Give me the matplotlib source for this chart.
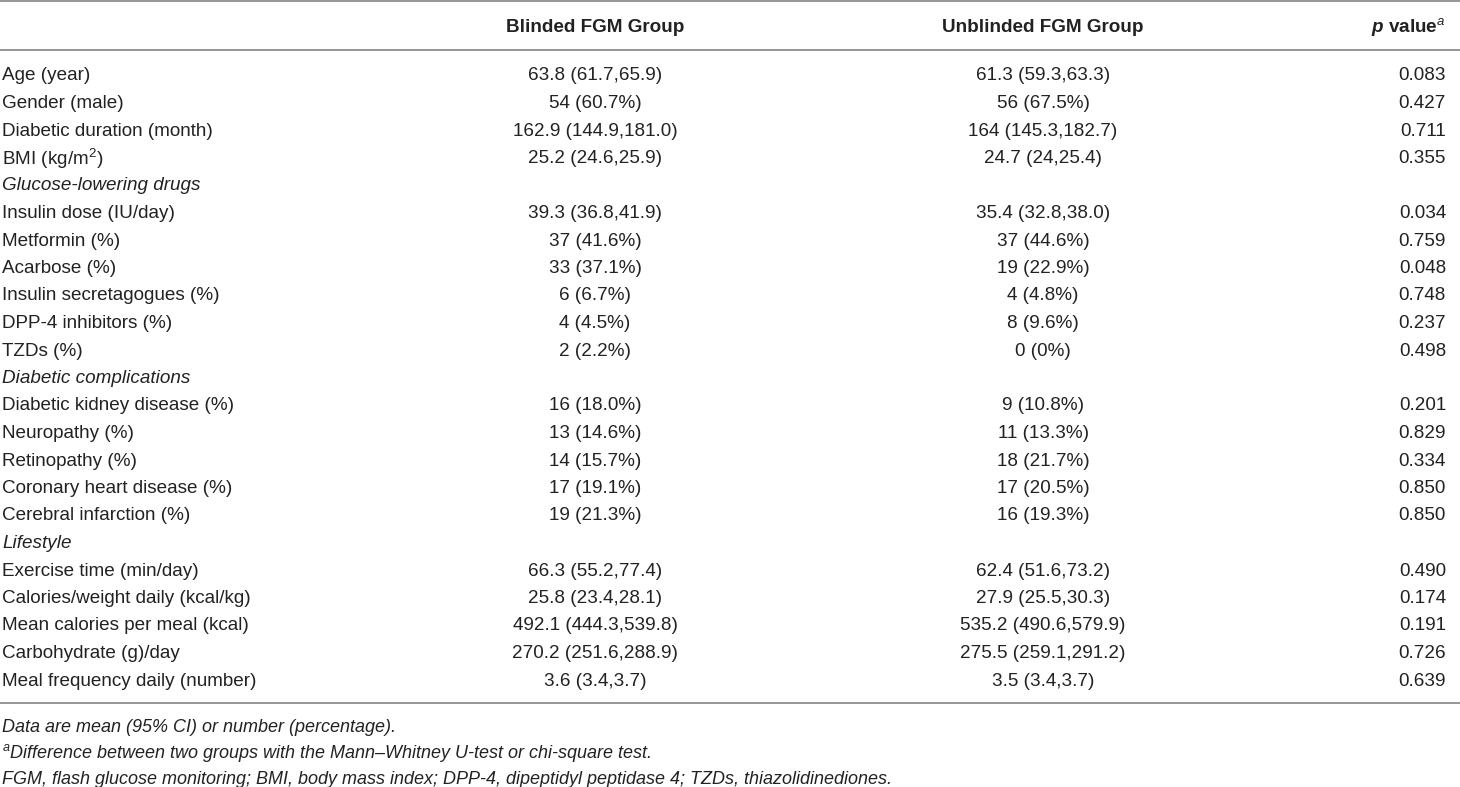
import matplotlib
matplotlib.use("Agg")
import matplotlib.pyplot as plt

row_labels = [
    "Age (year)", "Gender (male)", "Diabetic duration (month)", "BMI (kg/m$^{2}$)",
    "Glucose-lowering drugs", "Insulin dose (IU/day)", "Metformin (%)", "Acarbose (%)",
    "Insulin secretagogues (%)", "DPP-4 inhibitors (%)", "TZDs (%)",
    "Diabetic complications", "Diabetic kidney disease (%)", "Neuropathy (%)",
    "Retinopathy (%)", "Coronary heart disease (%)", "Cerebral infarction (%)",
    "Lifestyle", "Exercise time (min/day)", "Calories/weight daily (kcal/kg)",
    "Mean calories per meal (kcal)", "Carbohydrate (g)/day", "Meal frequency daily (number)",
]
section_rows = {"Glucose-lowering drugs", "Diabetic complications", "Lifestyle"}
blinded = [
    "63.8 (61.7,65.9)", "54 (60.7%)", "162.9 (144.9,181.0)", "25.2 (24.6,25.9)",
    "", "39.3 (36.8,41.9)", "37 (41.6%)", "33 (37.1%)", "6 (6.7%)", "4 (4.5%)", "2 (2.2%)",
    "", "16 (18.0%)", "13 (14.6%)", "14 (15.7%)", "17 (19.1%)", "19 (21.3%)",
    "", "66.3 (55.2,77.4)", "25.8 (23.4,28.1)", "492.1 (444.3,539.8)", "270.2 (251.6,288.9)",
    "3.6 (3.4,3.7)",
]
unblinded = [
    "61.3 (59.3,63.3)", "56 (67.5%)", "164 (145.3,182.7)", "24.7 (24,25.4)",
    "", "35.4 (32.8,38.0)", "37 (44.6%)", "19 (22.9%)", "4 (4.8%)", "8 (9.6%)", "0 (0%)",
    "", "9 (10.8%)", "11 (13.3%)", "18 (21.7%)", "17 (20.5%)", "16 (19.3%)",
    "", "62.4 (51.6,73.2)", "27.9 (25.5,30.3)", "535.2 (490.6,579.9)", "275.5 (259.1,291.2)",
    "3.5 (3.4,3.7)",
]
p_values = [
    "0.083", "0.427", "0.711", "0.355", "", "0.034", "0.759", "0.048", "0.748", "0.237",
    "0.498", "", "0.201", "0.829", "0.334", "0.850", "0.850", "", "0.490", "0.174",
    "0.191", "0.726", "0.639",
]
headers = ["Blinded FGM Group", "Unblinded FGM Group"]
footnotes = [
    "Data are mean (95% CI) or number (percentage).",
    "$^{a}$Difference between two groups with the Mann\u2013Whitney U-test or chi-square test.",
    "FGM, flash glucose monitoring; BMI, body mass index; DPP-4, dipeptidyl peptidase 4; TZDs, thiazolidinediones.",
]

plt.rcParams['font.family'] = ['Liberation Sans', 'DejaVu Sans']
plt.rcParams['mathtext.fontset'] = 'custom'
plt.rcParams['mathtext.rm'] = 'Liberation Sans'
plt.rcParams['mathtext.it'] = 'Liberation Sans:italic'
plt.rcParams['mathtext.bf'] = 'Liberation Sans:bold'
plt.rcParams['mathtext.bfit'] = 'Liberation Sans:italic:bold'

W, H = 1460, 787
fig = plt.figure(figsize=(W / 100, H / 100), dpi=100)
ax = fig.add_axes([0, 0, 1, 1])
ax.set_xlim(0, W)
ax.set_ylim(H, 0)
ax.axis("off")

fs = 13.6
fs_note = 13.0
col_x = [2, 595, 1043, 1446]
txt_color = "#222222"
line_color = "#8c8c8c"

# rules
for y in (1, 50, 703):
    ax.plot([0, W], [y, y], color=line_color, lw=1.3, solid_capstyle="butt")

# header
header_y = 27
ax.text(col_x[1], header_y, headers[0], ha="center", va="center", fontsize=fs,
        fontweight="bold", color=txt_color)
ax.text(col_x[2], header_y, headers[1], ha="center", va="center", fontsize=fs,
        fontweight="bold", color=txt_color)
ax.text(col_x[3], header_y, r"$\mathbfit{p}$ value$^{\mathit{a}}$", ha="right",
        va="center", fontsize=fs, fontweight="bold", color=txt_color)

y0, dy = 76, (681 - 76) / (len(row_labels) - 1)
for i, lab in enumerate(row_labels):
    y = y0 + i * dy
    style = "italic" if lab in section_rows else "normal"
    ax.text(col_x[0], y, lab, ha="left", va="center", fontsize=fs, style=style, color=txt_color)
    ax.text(col_x[1], y, blinded[i], ha="center", va="center", fontsize=fs, color=txt_color)
    ax.text(col_x[2], y, unblinded[i], ha="center", va="center", fontsize=fs, color=txt_color)
    ax.text(col_x[3], y, p_values[i], ha="right", va="center", fontsize=fs, color=txt_color)

for j, fn in enumerate(footnotes):
    ax.text(col_x[0], 728 + j * 25.5, fn, ha="left", va="center", fontsize=fs_note,
            style="italic", color=txt_color)

fig.savefig("out.png", dpi=100)
